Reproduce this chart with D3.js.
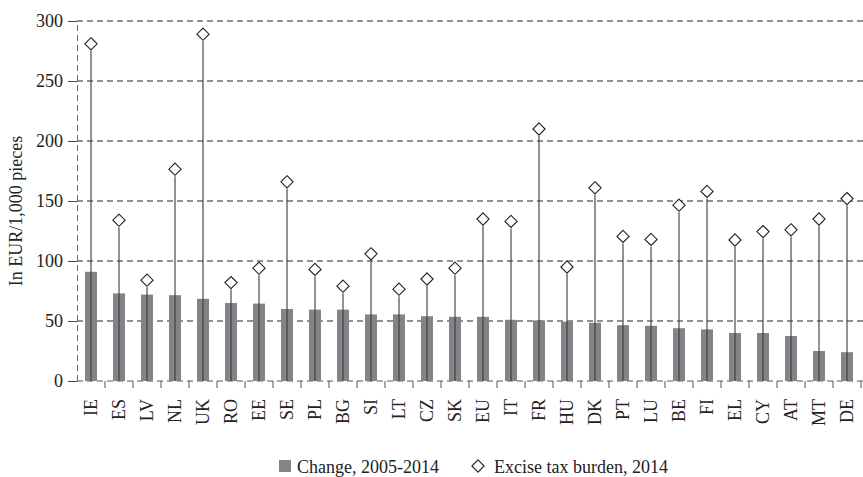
<!DOCTYPE html>
<html><head><meta charset="utf-8">
<script src="https://cdn.jsdelivr.net/npm/d3@7"></script>
<style>body{margin:0;background:#fff}svg{display:block}text{font-family:"Liberation Serif","DejaVu Serif",serif;fill:#222}</style>
</head><body><svg id="c" width="863" height="477"></svg>
<script>
const countries=["IE","ES","LV","NL","UK","RO","EE","SE","PL","BG","SI","LT","CZ","SK","EU","IT","FR","HU","DK","PT","LU","BE","FI","EL","CY","AT","MT","DE"];
const change=[91,73,72,71.5,68.5,65,64.5,60,59.5,59.5,55.5,55.5,54,53.5,53.5,51,50.5,49.5,48.5,46.5,46,44,43,40,40,37.5,25,24];
const burden=[281,134,84,176.5,289,82,94,166,93,79,106,76.5,85,94,135,133,210,95,161,120.5,118,146.5,158,117.5,124.5,126,135,152];
const yTicks=[0,50,100,150,200,250,300];
const legendLabels=["Change, 2005-2014","Excise tax burden, 2014"];

const svg=d3.select("#c");
const m={l:77,r:861,t:21,b:381};
const x=d3.scaleBand().domain(countries).range([m.l,m.r]);
const y=d3.scaleLinear().domain([0,300]).range([m.b,m.t]);
const fs="18px";

// gridlines
svg.append("g").selectAll("line").data(yTicks.filter(d=>d>0)).join("line")
 .attr("x1",m.l).attr("x2",863).attr("y1",d=>y(d)).attr("y2",d=>y(d))
 .attr("stroke","#222").attr("stroke-width",1).attr("stroke-dasharray","6,4");

// y axis
const ya=svg.append("g").attr("transform",`translate(${m.l},0)`).call(d3.axisLeft(y).tickValues(yTicks).tickSize(9).tickPadding(5));
ya.select(".domain").attr("stroke","#666").attr("stroke-dasharray","6,4");
ya.selectAll(".tick line").attr("stroke","#444");
ya.selectAll("text").style("font-size",fs).attr("fill","#222").style("font-family","Liberation Serif");

// x axis
const xa=svg.append("g").attr("transform",`translate(0,${m.b})`).call(d3.axisBottom(x).tickSize(0).tickPadding(0));
xa.select(".domain").remove();
xa.selectAll(".tick text").attr("transform","rotate(-90)").attr("x",-18).attr("y",0).attr("dy","0.33em")
 .style("text-anchor","end").style("font-size",fs).style("font-family","Liberation Serif").attr("fill","#222");
// baseline dashed + boundary ticks
svg.append("line").attr("x1",m.l).attr("x2",863).attr("y1",m.b).attr("y2",m.b).attr("stroke","#555").attr("stroke-dasharray","6,4");
svg.append("g").selectAll("line").data(countries).join("line")
 .attr("x1",d=>x(d)+x.step()).attr("x2",d=>x(d)+x.step())
 .attr("y1",m.b).attr("y2",m.b+7).attr("stroke","#555");

// bars
const bw=12;
svg.append("g").selectAll("rect").data(countries).join("rect")
 .attr("x",d=>x(d)+x.bandwidth()/2-bw/2).attr("width",bw)
 .attr("y",(d,i)=>y(change[i])).attr("height",(d,i)=>y(0)-y(change[i]))
 .attr("fill","#838388");

// stems
svg.append("g").selectAll("line").data(countries).join("line")
 .attr("x1",d=>x(d)+x.bandwidth()/2).attr("x2",d=>x(d)+x.bandwidth()/2)
 .attr("y1",y(0)).attr("y2",(d,i)=>y(burden[i])+7)
 .attr("stroke","#3a3a3a").attr("stroke-width",1.1);

// diamonds
const dia=d3.symbol().type(d3.symbolDiamond2).size(95);
svg.append("g").selectAll("path").data(countries).join("path")
 .attr("d",dia).attr("transform",(d,i)=>`translate(${x(d)+x.bandwidth()/2},${y(burden[i])})`)
 .attr("fill","#fff").attr("stroke","#222").attr("stroke-width",1.1);

// y title
svg.append("text").attr("transform","translate(22,211) rotate(-90)").attr("text-anchor","middle")
 .style("font-size",fs).text("In EUR/1,000 pieces");

// legend
const lg=svg.append("g");
lg.append("rect").attr("x",279).attr("y",460).attr("width",12).attr("height",12).attr("fill","#838388");
lg.append("text").attr("x",297).attr("y",472.5).style("font-size",fs).text(legendLabels[0]);
lg.append("path").attr("d",dia).attr("transform","translate(478,466)").attr("fill","#fff").attr("stroke","#222").attr("stroke-width",1.1);
lg.append("text").attr("x",494).attr("y",472.5).style("font-size",fs).text(legendLabels[1]);
</script></body></html>
